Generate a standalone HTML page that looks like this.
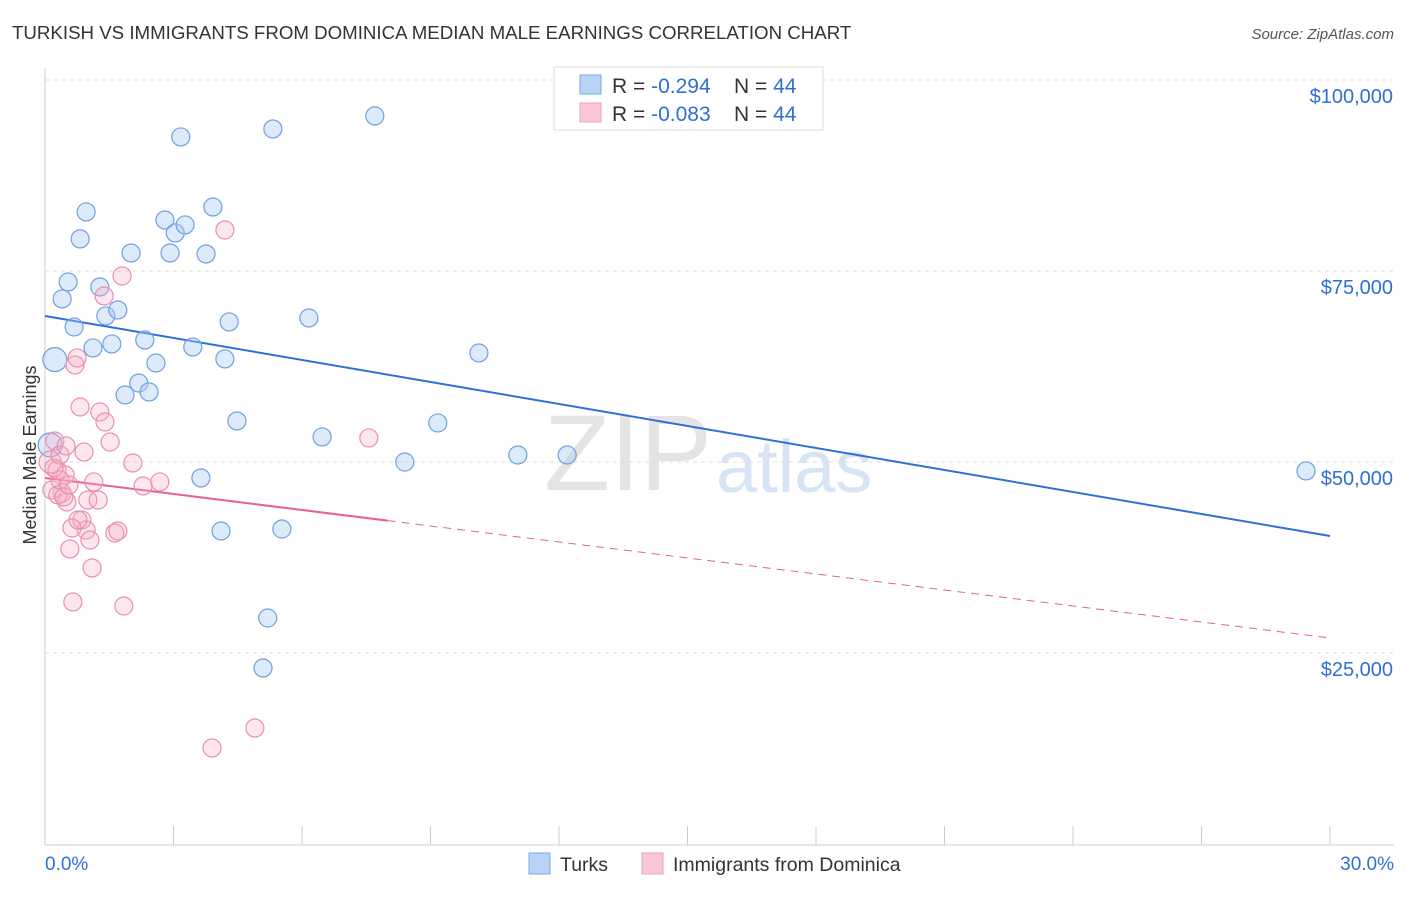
<!DOCTYPE html>
<html><head><meta charset="utf-8"><style>
body{margin:0;background:#fff;font-family:"Liberation Sans",sans-serif;}
svg text{font-family:"Liberation Sans",sans-serif;}
</style></head><body>
<svg id="c" width="1406" height="892" xmlns="http://www.w3.org/2000/svg">
<text x="12" y="39" font-size="18.7" fill="#333">TURKISH VS IMMIGRANTS FROM DOMINICA MEDIAN MALE EARNINGS CORRELATION CHART</text>
<text x="1394" y="39" font-size="15" fill="#555" font-style="italic" text-anchor="end">Source: ZipAtlas.com</text>
<text x="36" y="455" font-size="18" fill="#333" transform="rotate(-90 36 455)" text-anchor="middle">Median Male Earnings</text>
<text x="712" y="490" font-size="108" fill="#e4e4e4" text-anchor="end" font-family="Liberation Serif">ZIP</text>
<text x="716" y="492" font-size="74" fill="#d6e4f6">atlas</text>
<g id="grid"></g><g id="lines"></g><g id="pts"></g>
<g>
<rect x="554" y="67" width="269" height="63" fill="#fff" stroke="#ddd"/>
<rect x="580" y="75" width="21" height="19" fill="#b8d3f5" stroke="#7aa8e6"/>
<rect x="580" y="103" width="21" height="19" fill="#f9c6d5" stroke="#eea0bb"/>
<text x="612" y="93" font-size="21" fill="#333">R = <tspan fill="#2f6fd6">-0.294</tspan><tspan x="734">N = </tspan><tspan fill="#2f6fd6">44</tspan></text>
<text x="612" y="121" font-size="21" fill="#333">R = <tspan fill="#2f6fd6">-0.083</tspan><tspan x="734">N = </tspan><tspan fill="#2f6fd6">44</tspan></text>
</g>
<g>
<rect x="529" y="853" width="21" height="21" fill="#b8d3f5" stroke="#7aa8e6"/>
<text x="560" y="871" font-size="19.5" fill="#333">Turks</text>
<rect x="642" y="853" width="21" height="21" fill="#f9c6d5" stroke="#eea0bb"/>
<text x="673" y="871" font-size="19.5" fill="#333">Immigrants from Dominica</text>
</g>
</svg>
<script>
const xTicks=[0,3,6,9,12,15,18,21,24,27,30];
const yTicks=[25000,50000,75000,100000];
const yTickLabels=["$25,000","$50,000","$75,000","$100,000"];
const turksX=[0.23,0.12,0.40,0.54,0.68,0.82,0.96,1.12,1.28,1.42,1.56,1.70,1.87,2.01,2.19,2.33,2.43,2.59,2.80,2.92,3.04,3.17,3.27,3.45,3.64,3.76,3.92,4.11,4.20,4.30,4.48,5.32,5.53,5.09,5.20,6.16,6.47,7.70,8.40,9.17,10.13,11.04,12.19,29.44];
const turksY=[63400,52230,71340,73570,67680,79200,82730,64930,72910,69120,65450,69900,58770,77360,60340,65970,59170,62960,81680,77360,79980,92550,81030,65060,47910,77230,83380,40970,63490,68330,55370,93590,41230,23040,29580,68850,53280,95300,50000,55110,64270,50920,50920,48830];
const domX=[0.12,0.23,0.28,0.35,0.40,0.47,0.51,0.58,0.65,0.70,0.75,0.82,0.86,0.91,0.96,1.00,1.05,1.10,1.14,1.24,1.28,1.38,1.40,1.52,1.63,1.70,1.80,1.84,2.05,2.29,2.68,3.90,4.20,4.90,7.56,0.16,0.30,0.44,0.63,0.77,0.35,0.21,0.49,0.56];
const domY=[50000,52750,48960,50920,45950,48300,44770,38620,31680,62700,63620,57200,42410,51310,41100,45030,39790,36130,47390,45030,56550,71730,55240,52620,40710,40970,74350,31150,49870,46860,47390,12570,80370,15180,53150,46340,45690,45420,41360,42410,47650,49220,52100,46990];
const turksTrend=[69115,40317];
const domTrend=[47910,26965];
const domSolidEnd=8.0;
const X=p=>45+p/30*1285, Y=v=>844-v*191/25000;
const NS="http://www.w3.org/2000/svg";
function mk(t,a,parent){const e=document.createElementNS(NS,t);for(const k in a)e.setAttribute(k,a[k]);document.getElementById(parent).appendChild(e);return e;}
let e=mk('line',{x1:45,y1:68,x2:45,y2:845,stroke:'#ccc'},'grid');

e=mk('line',{x1:45,y1:845,x2:1394,y2:845,stroke:'#ccc'},'grid');

yTicks.forEach((v,i)=>{
 let g=mk('line',{x1:45,y1:Y(v),x2:1394,y2:Y(v),stroke:'#ddd','stroke-dasharray':'4 4'},'grid');
 
 let t=mk('text',{x:1393,y:Y(v)+23,'font-size':20,fill:'#2f6fd6','text-anchor':'end'},'grid');t.textContent=yTickLabels[i];
 
});
mk('line',{x1:45,y1:80,x2:1394,y2:80,stroke:'#ddd','stroke-dasharray':'4 4'},'grid');
xTicks.forEach(p=>{let t=mk('line',{x1:X(p),y1:826,x2:X(p),y2:845,stroke:'#ccc'},'grid');
 });
let t=mk('text',{x:45,y:870,'font-size':19,fill:'#2f6fd6'},'grid');t.textContent='0.0%';

t=mk('text',{x:1394,y:870,'font-size':19,fill:'#2f6fd6','text-anchor':'end'},'grid');t.textContent='30.0%';

turksX.forEach((x,i)=>{let c=mk('circle',{cx:X(x),cy:Y(turksY[i]),r:i<2?12:9,fill:'rgba(170,202,242,0.4)',stroke:'#6fa0e0','stroke-width':1.2},'pts');
 });
domX.forEach((x,i)=>{let c=mk('circle',{cx:X(x),cy:Y(domY[i]),r:i==0?11:9,fill:'rgba(245,175,200,0.3)',stroke:'#e98fb0','stroke-width':1.2},'pts');
 });
let l=mk('line',{x1:X(0),y1:Y(turksTrend[0]),x2:X(30),y2:Y(turksTrend[1]),stroke:'#2f6fd6','stroke-width':2},'lines');

const dv=p=>domTrend[0]+(domTrend[1]-domTrend[0])*p/30;
l=mk('line',{x1:X(0),y1:Y(dv(0)),x2:X(domSolidEnd),y2:Y(dv(domSolidEnd)),stroke:'#e8608f','stroke-width':2},'lines');

l=mk('line',{x1:X(domSolidEnd),y1:Y(dv(domSolidEnd)),x2:X(30),y2:Y(dv(30)),stroke:'#e8608f','stroke-width':1,'stroke-dasharray':'8 6'},'lines');

</script>
</body></html>
